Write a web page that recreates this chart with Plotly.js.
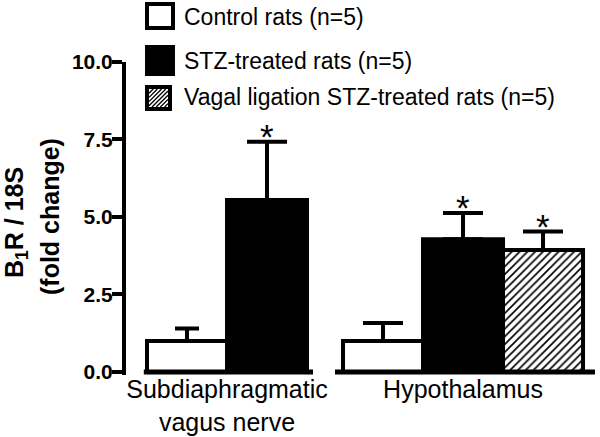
<!DOCTYPE html>
<html><head><meta charset="utf-8">
<script src="https://cdn.plot.ly/plotly-3.0.1.min.js"></script>
<style>html,body{margin:0;padding:0;background:#fff}#chart{width:600px;height:437px}</style>
</head><body><div id="chart"></div>
<script>
// ---- data ----
const groups = ['Subdiaphragmatic<br>vagus nerve', 'Hypothalamus'];
const seriesNames = ['Control rats (n=5)', 'STZ-treated rats (n=5)', 'Vagal ligation STZ-treated rats (n=5)'];
const yTitleLines = ['<b>B<sub>1</sub>R / 18S</b>', '<b>(fold change)</b>'];
const controlMean = [1.0, 1.0];
const controlErr  = [0.4, 0.58];
const stzMean     = [5.55, 4.28];
const stzErr      = [1.88, 0.85];
const vagalMean   = [null, 3.93];
const vagalErr    = [null, 0.6];
const controlSig  = [false, false];
const stzSig      = [true, true];
const vagalSig    = [false, true];
const yTicks      = [0, 2.5, 5, 7.5, 10];

// ---- layout helpers ----
const FONT = 'Liberation Sans, Arial, sans-serif';
const L = 126, T = 62, W = 471, H = 313;
const px2x = p => (p - L) / W;
const py2y = p => 1 - (p - T) / H;
const groupStart = [0, 2.45];
const series = [
  {mean: controlMean, err: controlErr, sig: controlSig, style: 'white'},
  {mean: stzMean, err: stzErr, sig: stzSig, style: 'black'},
  {mean: vagalMean, err: vagalErr, sig: vagalSig, style: 'hatch'}
];
function markerFor(style) {
  const m = {line: {color: '#000', width: 4}};
  if (style === 'white') m.color = '#fff';
  else if (style === 'black') m.color = '#000';
  else { m.color = '#fff'; m.pattern = {shape: '/', fgcolor: '#000', bgcolor: '#fff', size: 5.5, solidity: 0.3}; }
  return m;
}

const traces = [];
const annotations = [];
const groupCounts = [0, 0];
series.forEach((s, si) => {
  s.mean.forEach((v, gi) => {
    if (v === null) return;
    groupCounts[gi] = Math.max(groupCounts[gi], si + 1);
    const x = groupStart[gi] + si;
    const capHalf = (si === 0 && gi === 0) ? 12 : 20;
    traces.push({
      type: 'bar', x: [x], y: [v], width: [1], name: seriesNames[si], showlegend: false,
      marker: markerFor(s.style),
      error_y: {type: 'data', symmetric: false, array: [s.err[gi]], arrayminus: [0],
                color: '#000', thickness: 4, width: capHalf},
      hoverinfo: 'skip'
    });
    if (s.sig[gi]) {
      annotations.push({x: x, y: v + s.err[gi], xref: 'x', yref: 'y', text: '*', showarrow: false,
        yanchor: 'bottom', yshift: -16, font: {family: FONT, size: 35, color: '#000'}});
    }
  });
});

// x axis broken line segments per group
const shapes = [];
const segPad = [[0.04, 0.075], [0.1, 0.15]];
groupStart.forEach((g, gi) => {
  shapes.push({type: 'line', xref: 'x', yref: 'y', x0: g - 0.5 - segPad[gi][0], x1: g - 0.5 + groupCounts[gi] + segPad[gi][1],
    y0: 0, y1: 0, line: {color: '#000', width: 5}});
});
const tickvals = groupStart.map((g, gi) => g + (groupCounts[gi] - 1) / 2);

// custom legend
const legendBoxes = [
  {x0: 145, x1: 175, y0: 2, y1: 30, style: 'white', ty: 17},
  {x0: 145, x1: 175, y0: 45, y1: 76, style: 'black', ty: 61},
  {x0: 145, x1: 172, y0: 85, y1: 111, style: 'hatch', ty: 97}
];
legendBoxes.forEach((b, i) => {
  const lw = 4;
  const fill = b.style === 'black' ? '#000' : '#fff';
  shapes.push({type: 'rect', xref: 'paper', yref: 'paper',
    x0: px2x(b.x0 + lw / 2), x1: px2x(b.x1 - lw / 2), y0: py2y(b.y1 - lw / 2), y1: py2y(b.y0 + lw / 2),
    fillcolor: fill, line: {color: '#000', width: lw}});
  if (b.style === 'hatch') {
    const ix0 = b.x0 + lw, ix1 = b.x1 - lw, iy0 = b.y0 + lw, iy1 = b.y1 - lw;
    let path = '';
    for (let s = ix0 + iy0; s <= ix1 + iy1; s += 4.2) {
      const xa = Math.max(ix0, s - iy1), xb = Math.min(ix1, s - iy0);
      if (xb <= xa) continue;
      path += 'M' + px2x(xa).toFixed(5) + ',' + py2y(s - xa).toFixed(5) + 'L' + px2x(xb).toFixed(5) + ',' + py2y(s - xb).toFixed(5);
    }
    shapes.push({type: 'path', xref: 'paper', yref: 'paper', path: path, line: {color: '#000', width: 1.3}});
  }
  annotations.push({xref: 'paper', yref: 'paper', x: px2x(182), y: py2y(b.ty), xanchor: 'left', yanchor: 'middle',
    text: seriesNames[i], showarrow: false, font: {family: FONT, size: 23, color: '#000'}});
});

// y-axis title (two lines, rotated)
const yTitlePos = [{x: 16, y: 223}, {x: 50, y: 217}];
yTitleLines.forEach((t, i) => {
  annotations.push({xref: 'paper', yref: 'paper', x: px2x(yTitlePos[i].x), y: py2y(yTitlePos[i].y),
    xanchor: 'center', yanchor: 'middle', textangle: -90, text: t, showarrow: false,
    font: {family: FONT, size: 25, color: '#000'}});
});

const layout = {
  width: 600, height: 437,
  margin: {l: L, r: 600 - L - W, t: T, b: 437 - T - H},
  paper_bgcolor: '#fff', plot_bgcolor: '#fff',
  bargap: 0,
  xaxis: {range: [-0.7625, 5.125], showgrid: false, zeroline: false, showline: false, ticks: '',
    tickvals: tickvals, ticktext: groups, ticklabelstandoff: -3,
    tickfont: {family: FONT, size: 25, color: '#000'}},
  yaxis: {range: [-0.1, 10], showgrid: false, zeroline: false, showline: true, linewidth: 4, linecolor: '#000',
    ticks: 'outside', ticklen: 10, tickwidth: 4, tickcolor: '#000', tickvals: yTicks,
    ticktext: yTicks.map(v => v.toFixed(1)), ticklabelstandoff: -5,
    tickfont: {family: FONT, size: 21, color: '#000', weight: 'bold'}},
  shapes: shapes,
  annotations: annotations,
  showlegend: false
};
Plotly.newPlot('chart', traces, layout, {displayModeBar: false, staticPlot: true});
</script>
</body></html>
